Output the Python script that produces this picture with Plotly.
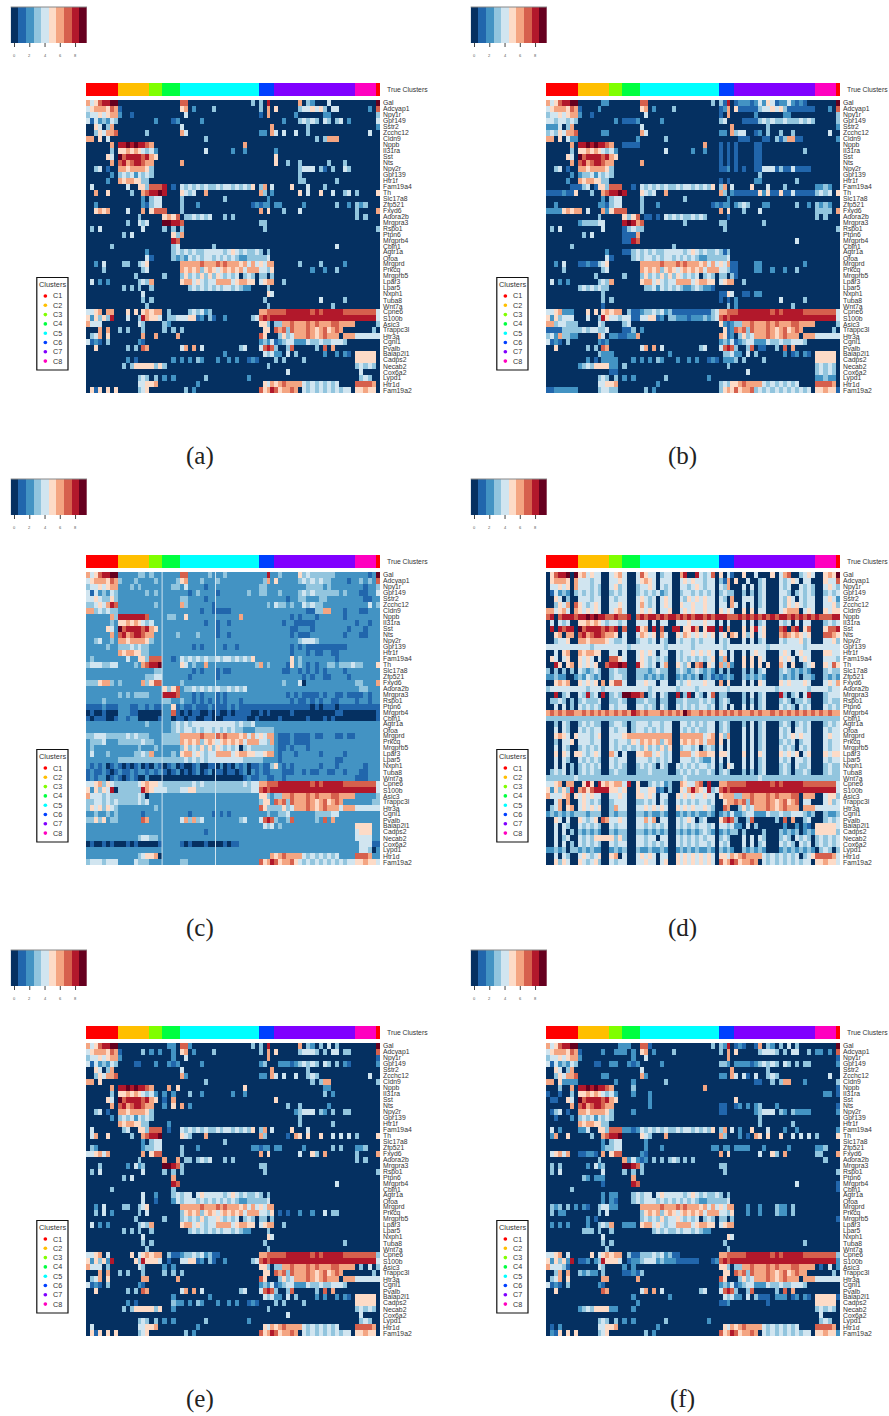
import numpy as np
import plotly.graph_objects as go

GENES = ["Gal","Adcyap1","Npy1r","Gpr149","Sstr2","Zcchc12","Cldn9","Nppb","Il31ra","Sst","Nts","Npy2r","Gpr139","Htr1f","Fam19a4","Th","Slc17a8","Zfp521","Fxyd6","Adora2b","Mrgpra3","Rspo1","Ptpn6","Mrgprb4","Cbln1","Agtr1a","Ofoa","Mrgprd","Prkcq","Mrgprb5","Lpar3","Lpar5","Nxph1","Tuba8","Wnt7a","Cpne6","S100b","Asic3","Trappc3l","Htr3a","Cgnl1","Pvalb","Baiap2l1","Cadps2","Necab2","Cox6a2","Lypd1","Htr1d","Fam19a2"]
COLORS = ["#053061","#2166AC","#4393C3","#92C5DE","#D1E5F0","#FDDBC7","#F4A582","#D6604D","#B2182B","#67001F"]
CLUSTER_COLORS = ["#FF0000","#FFBF00","#80FF00","#00FF40","#00FFFF","#0040FF","#8000FF","#FF00BF"]
CLUSTER_NAMES = ["C1","C2","C3","C4","C5","C6","C7","C8"]
CLUSTER_SIZES = [32,31.3,12.7,18,79,15,81,21,4]
CLUSTER_IDS = [0,1,2,3,4,5,6,7,0]
BLOCK_COLS = [8,8,3,4,20,4,20,5,1]
SCALE_VALUES = list(range(10))
# two nearly blank cell columns of panel (c): start cell, number of cells, value
PALE_COLUMNS_C = [(129.0, 1.2, 4), (75.6, 0.7, 4)]

PANEL_A = """
64578899 00000000 000 0000 77000000000000000030 3080 00000060320004000000 00000 9
45666576 10000000 000 0000 56020000300000000000 3060 50000034454530440000 00020 7
34454566 20010000 000 0000 04000000000000000000 1060 00000200000022000000 00000 3
41423243 00000000 020 0012 00000200000000000000 0000 00200034343043034020 00000 4
00540360 00000000 000 0000 40000000000000000000 0006 00000000300000000000 00000 2
00354667 00000003 000 0000 64000000000000000000 2206 40400400300000000000 00040 0
66050400 00000000 000 0000 00000030000000000000 0000 00000000003036660000 00000 0
00000060 88989887 600 0000 00000000000000006000 0000 00000000000000000000 00000 0
00000030 55656543 420 0000 00000040000002002000 0000 20000000000000000000 00000 0
00000540 97888878 650 0000 00000000000000000000 0000 50000000000000000000 00000 0
00000060 78678876 600 0000 60000000000000000000 0000 50030030000003000300 00000 0
00340100 66566665 300 0000 00000000000000000000 0000 00000034440310300430 00000 0
00000020 34342434 300 0000 00000000000000000000 0000 00000030000000000000 00000 0
00000200 65665533 000 0000 00000000000000000000 0000 00000033000000030000 00000 0
04000000 00400553 777 8010 43434343343443434350 3604 00005000400030000000 00000 0
00600500 00030067 889 8000 54340060000000000000 6302 00000050400500400340 30000 5
00000000 00000020 344 0000 30000000000300000000 0020 00000000000000000000 00000 0
00200000 00000021 344 0000 30002000000000000012 1220 22000002000000030020 32300 0
00565600 00400060 577 7000 30000000000000000000 6050 00300040000000000000 30000 6
00000000 00000300 000 5657 03343434000303000000 0000 00000000000000000000 30300 0
00000000 00300434 000 9988 70000000000000000000 3300 00000000000000000000 00000 0
03040000 00000040 000 3030 30000000000000000000 0300 00000000000000000000 00000 3
00000000 03040000 000 0053 60000000000000000000 0000 00000000000000000000 00000 0
00000000 00000000 000 0087 00000000000000000000 0000 00000000000000000000 00000 0
00000030 00000000 000 0034 00000000300000000000 0000 00000000000000040000 00000 0
00000000 00000002 000 0034 34343344444345434334 3030 00000000000000000000 00000 0
00000000 00000004 100 0032 32434344343434322333 3340 00000000000000000000 00000 0
00204000 03300345 000 0000 66666766676766656464 5466 00000030000300000200 00000 0
00003000 00000034 000 0000 65656356545656564666 4435 00000000020020030000 00000 0
00000000 00003000 000 3000 35343535354343403430 3303 00000000000000000000 00000 0
04020200 00000343 600 0000 56645434466664566550 4566 00300000000000000000 00000 0
00000000 03030300 300 0000 00343434343443432200 0030 00000000000000000000 00000 0
00000000 00000040 000 0000 00000000000000000000 0054 00000000000000000000 00000 0
00000000 00000030 300 0000 00000000000000000000 0300 00000000000400000300 00000 0
00000000 00000003 000 0000 00000000000000000000 0030 00000000000000300000 00000 0
44560660 00505056 566 0300 00343423000000000000 6677 77788888878788888777 77777 4
52535380 00400386 554 0334 44551203100200000034 7878 88888888888888888888 88888 4
64440000 00000430 000 3200 00000000000000000000 5530 33667666767666776666 00000 3
00060600 30300030 000 3030 30000000000000000000 0550 76737666765675676000 00003 0
03460500 00000060 060 0006 00000000000000000000 7500 03534666765676660666 44444 4
41210300 00000210 000 0000 00000000000000000000 2324 12344222433433444300 00000 0
00500000 00303076 000 0000 46060400000000034000 4787 30037000003070600000 00000 0
00000000 00000000 000 0000 00000000000200000000 0434 22040300000020020210 55555 0
00000000 00201000 000 0020 20203200020020200121 0000 30300003000000000000 55555 0
00000000 03035555 535 3000 00000000000000000000 0030 00000000000000000000 34343 0
00000000 00000000 000 0000 00000000000000000000 0000 00040000000000000000 04000 0
00000000 00000343 030 2020 00000030000000000200 0000 00000000000000000000 03430 0
00000000 00000445 560 0000 00002000000000000000 0546 56766664343434340000 77776 0
05150505 00000345 000 0000 03020000000000000000 7568 75667604343434343440 55655 0
"""

PANEL_B = """
64578899 00000022 000 0000 77000000000000000030 3180 12221242541224212100 00000 9
45666576 10000200 000 0000 56020000300000000000 1260 51111134454531111111 00020 7
34454566 20010000 000 0000 04000000000000000000 1060 00000200000022000000 00000 3
44344343 00000000 020 1112 00000200000000000000 3400 00111134343343334343 00000 3
22240360 00000000 000 0000 40000000000000000000 0006 00000000300000000000 00000 2
34354667 00000022 000 0000 64000000000000000000 2206 34400120300300300000 00040 0
66050422 00000000 000 0002 00000030000000000000 0000 01110001103136611000 00000 2
00000060 88989887 600 1111 00000000000000006000 1010 10000110000000000000 00000 0
00000030 55656543 420 0000 00000040000002002000 1010 10000110000000000300 00000 0
00000540 97888878 650 0000 00000000000000000000 1010 10000110000000000000 00000 0
00000060 78678876 600 0000 60000000000000000000 1010 10000110000000000000 00000 0
00340100 66566665 300 0000 00000000000000000000 1120 10100114441311411110 00000 0
00000020 23342434 300 0000 00000000000000000000 0000 00000030000000000000 00000 0
00000200 65665533 000 0000 00000000000000000000 1010 00000220000000030000 00000 0
00000011 13401553 777 0010 43434343343443434350 3604 00005000400030000000 22320 0
11112115 00030067 889 8000 54340060000000000000 6302 11111152511511411111 34340 5
00000000 00000020 344 0000 30000000000300000000 0020 00000000000000000000 00000 0
00200000 00000221 344 0000 30002000000000000012 1220 23430002200000030020 32320 0
22225656 60400062 577 7000 30000000000000000000 6050 00300040000000000000 33330 6
00000000 00000300 000 5357 01101043434334343000 0010 00000000000000000000 30300 0
00000000 23333440 000 8986 70000000000300000000 3300 00000003000000000000 00000 0
03040000 00000040 000 1343 30000000000000000000 0300 00000000000000000000 00000 3
00000000 03040000 000 1116 00000000000000000000 0000 00000000000000000000 00000 0
00000000 00000000 000 1187 00000000000000000000 0000 00000000000000040000 00000 0
00000030 00000000 000 0000 00000000300000000000 0000 00000000000000000000 00000 0
00000000 00000002 000 1134 34343344444345434334 3130 00000000000000000000 00000 0
00000000 00000004 100 0034 34434344343434322333 3340 00000000000000000000 00000 0
00204000 11211345 000 0000 66666766676766656464 5461 10000220000000000200 00000 0
00003000 00000034 000 0000 65656356545656564666 4431 10000220020020030000 00000 0
00000000 00003000 000 3000 35343535354343403430 3303 10000000000000000000 00000 0
04020200 00000343 600 0000 56645434466664566550 4566 00300000000000000000 00000 0
00000000 34343433 000 0000 03342434343223432210 0000 00000000000000000000 00000 0
00000000 00000030 000 0000 00000000000000000000 1154 00110220000000000000 00000 0
00000000 00000030 300 0000 00000000000000000000 1010 20000000000400000300 00000 0
00000000 00000010 000 0000 00000000000000000000 0030 20000000000000300000 00000 0
44562220 00505056 566 0311 23343423111111111134 6677 78888888878788888777 77777 4
52534440 00400385 443 4411 44551203322212223234 7878 88888888888888888888 88888 4
66344333 00000430 000 3400 00000000000000000000 5212 33667666767666776666 00000 3
11113333 34344334 000 1130 20000000000000000000 0512 76737666765675676000 00003 0
34263322 00000640 221 1226 00000000000000000000 6512 03534666765676660666 44444 4
41210300 00000212 000 0000 00000000000000000000 2324 12344222433433444300 00000 0
00500000 00303076 000 0000 46060400000000034000 4787 30037011003070600000 00000 0
00000000 00000322 200 0000 00000002000000000000 0334 22040300000020120210 55555 0
00000000 00201022 220 0020 20203200020020200121 0222 30300003000000000000 55555 0
00000000 23435555 220 3000 00000000000000000000 0030 00000000000000000000 34343 0
00000000 00000000 110 0000 00000000000000000000 0000 00040000000000000000 34343 0
00000000 00000343 030 2020 00000030000000000200 0000 00000000000000000000 22322 0
00000000 00000445 560 0000 00002000000000000000 3435 56766664343434340000 77776 0
11222222 00000344 330 0000 03020000000000000000 3565 75667343434343434340 55655 1
"""

PANEL_C = """
64578899 22222332 322 2222 77222223222322222222 2282 23222253433333322222 22212 9
45666576 32223222 232 2223 56222322232222222222 2362 52222234343433222212 23232 7
34454566 22232322 222 2233 24222212222222222222 3322 22222222333323222222 22122 3
41423243 22222223 232 2222 22123222212222222322 3322 23222234343333332322 21122 4
44543353 22222222 222 2222 33222212222222222222 2222 22212233222332222222 22112 2
33454687 22222222 232 2222 63222222122222222222 2232 43323224343322222222 22242 3
66343433 22222222 222 2222 22222122111112222222 2222 22222222113366222122 21122 2
22222263 88888887 222 2332 25222222222222262222 2222 22221212221222222122 22222 2
22222232 55656543 422 2222 22222212212212222222 2222 22122111112222222222 12212 2
22222542 97888878 652 2222 22222222212222222222 2222 22221122212222222212 22122 2
22222262 78678876 622 2223 22223222212212222222 2222 22221211122222222122 21122 2
22342232 66566665 322 2222 22222222222222222222 2222 22222234443222222222 22222 2
22222322 33343433 222 2222 22212122222122122222 2222 22221212111111111122 22222 2
22222222 65665533 222 2222 22222222222222222222 2222 22221222121122112222 22222 2
23222222 22422553 777 2212 43434343343443434352 2222 22225232222222212222 22222 2
34443344 22223267 889 2222 54232262222222222223 6232 22215232121223323334 33222 5
22222222 22222222 233 2222 22212122212112222222 2222 22112212121212222122 22222 2
22222222 22222223 344 2222 22122222212222222222 2222 22222221212211222212 22222 2
33356632 32222263 577 2222 32222222222222222222 2222 22322240222222222222 33222 6
22222222 22222222 222 5357 23343434343343434222 2222 22222222222222222222 23322 2
22222222 32323333 222 8887 22212122212122222222 2222 22212121111212211211 11212 2
22223222 22222222 222 3322 32212121212122212222 2222 22221211212122112222 12212 2
11112111 22211221 211 2251 21121112111121211111 1111 11111111101011101111 11111 1
01001000 22211000 000 2271 01011001010010111100 1010 00001000000000011000 00000 1
10111001 22122000 001 2201 10110011000111111001 0000 01000000100010100000 00000 1
22222222 22222223 222 2234 34344444444444343342 2222 22222222222222222222 22222 2
22222222 22222222 222 2234 34434344343434332223 3333 22222222222222222222 22222 2
33444333 33434333 222 3333 66666766676766656464 5466 21112111121122211211 22222 2
23334222 33333343 322 3333 65656356545656564666 4436 21112111122222222222 22222 2
23222222 22222322 232 2222 35343535354343403433 3333 21121222122222222222 22222 2
24222322 22223343 622 2232 56645434466664566554 4566 21222122222122222122 22222 2
22222222 33333333 333 3333 34343434444444443333 3222 21222222222222211222 22222 2
21212012 10101201 021 0120 10012001102010212011 2113 52121222222122212222 22122 2
12112101 21121221 212 1012 01012012011011012021 2112 22111221211221122122 21122 2
12122012 10121002 000 0000 00000000000000001211 2211 22122222222222222222 11122 2
44563543 33333456 554 3333 33343433333333334344 6677 78888888878788888777 77777 4
52535480 33333386 544 4333 44553333333333333344 7878 88888888888888888888 88888 4
64443433 33333430 222 2222 22222222222222222222 5532 33667666767666776666 22222 3
33443434 33333434 222 2222 22222222222222222222 3552 76737666765675676222 22223 3
35453543 22222222 232 2222 22222222222222222222 7533 33534666765676664666 44444 4
22322323 22222212 222 2222 22122222121212222222 2232 23342222223333442222 22222 2
33535233 22222276 222 2222 46363422222222234222 4787 32237222223272622222 22222 2
22222222 22222222 222 2222 22222222222222222222 2434 23222222222222222222 55552 2
22222222 22222222 222 2222 22222212222222222222 2222 22222222222222222222 45552 2
22222222 22222344 332 2222 22222222222222222222 2222 22222222222222222222 44442 2
01001010 00101000 001 2222 10100010000101122222 2222 22222222222222222222 24441 1
22222222 22222222 222 2222 22222222222222222222 2222 22222222222222222222 24430 2
22222222 22222345 560 2222 22222222222222222222 2226 56766664343434342222 77762 2
34443444 22224333 222 2222 33222222222222222222 7568 75667543434343434344 55655 4
"""

PANEL_D = """
05788909 56454400 456 4004 75440344006800843470 5041 00500400050467003454 00565 9
05666506 44434400 445 4004 56540444004545443440 3160 50040034000434540440 00544 7
04454506 44434300 453 4003 44540434004434543440 4360 00404034000434004343 00454 3
01423203 43434300 343 4003 43434234003443434340 3433 00303034000443034343 00343 4
00540300 44434400 434 4004 54340454004354545440 4306 00444034000435404344 00454 2
00354607 54345400 445 4004 64340454005445445440 4406 40404034000435454344 00445 3
66456406 54545400 456 4004 54540445004545445440 5454 00505044000456660454 00545 5
78078887 88989887 787 7807 87887878878787887878 8877 78787878787887878787 87778 8
04043400 55656543 443 4004 44040440044454445440 4040 00404034000434040440 00343 4
08087880 97888878 780 7008 56080700880558605880 8060 00505845000780780570 00577 8
00560660 78678876 650 4004 65450640054654545450 4506 50535045000676565450 00776 5
00344500 66566665 433 4003 44340430043443434440 4340 00404034000434445340 00445 3
44444444 44434444 444 4344 44444434444443444444 4344 44444444344444444344 44444 4
00405600 65665500 440 4004 54540440043445454540 5404 00404544000454045440 00554 4
05404500 54540400 775 4004 54343430043434343450 3604 00505054000545404540 00444 3
00850560 54545007 889 8008 54340460054350670540 6362 00505050500640500345 00547 5
30303030 43234300 343 3003 33234330034323432320 3030 00303034000343232320 00343 3
22322002 32432300 344 3003 32323230023232302312 1232 00323232000323230332 00323 2
00565600 54545060 577 4004 45440440043454445440 6050 00404054000545444540 00454 6
34444444 44344434 444 4444 44344444434444344444 4434 44444444443444444434 44434 4
00803400 43834080 343 9988 70340430080380430470 3300 00304034000830340480 00344 4
03343030 34333400 334 3003 34330330033433343430 3430 00303034000343033430 00343 3
00404030 43434300 434 4004 43430430043434344340 3404 00404034000434304340 00434 3
67676776 67676767 676 7687 67666767676976676767 6767 67667676676767676767 67676 6
33333333 33333333 333 3333 33333333333333333333 3333 33333333333333333333 33333 3
00304300 34343300 344 3034 44344344004434343440 3430 00304034000343034340 00343 4
00404300 43434400 434 4034 43434344004343433440 3430 00404034000434044340 00434 4
00565405 44434500 444 5666 66666666006666664560 5360 00404034000434545440 00454 4
00304450 44434400 434 4354 65656356005656564660 5040 00404034000343403440 00434 4
00404300 34343400 434 3434 35343535003443403430 4040 00404034000434304340 00434 4
00505405 54345400 640 4005 56645434006664566550 5540 00504054000545450450 00545 5
00404300 43434300 434 4004 44343434004443432240 4040 00404034000434044340 00434 4
00404030 34343400 434 3003 43430430043434344340 3054 00404034000343043340 00343 3
03434030 34343300 343 3003 33433330034343433430 3430 00303034000343033430 00343 3
33333334 33333333 333 3333 33333333333433333333 3333 33333343333333333333 33333 3
44560660 05850856 566 4805 00343423006544670800 6677 77788888878788888777 77777 4
52535380 67578888 554 5005 44551203005468654834 7878 88888888888888888888 88888 4
64445605 45454400 445 4005 54540440054545445440 5666 33667666767666770666 00455 3
00460600 45434300 344 4003 34340430043434344340 0566 76737666765675670440 00453 4
03460560 45454500 364 4004 45454540054545445430 0760 03534666765676660666 44444 4
23232323 33233300 323 3003 32322320023232322320 2324 22344222433433444323 00322 3
00540400 54345076 445 4004 46460440043454034000 5787 30037000003070600340 00343 4
00404300 43434300 434 4004 43434340043434344340 4434 22040300000020020210 55555 4
00404030 32323200 323 3003 32323230032323234320 2323 30300003000323230232 55555 3
00403400 43435555 535 3004 43440440043434343440 3430 00404043000343043430 34343 4
00404030 43434300 434 4004 43434340043434344340 4340 00404034000434304340 34343 4
22323033 23232200 232 3003 22322320023232322320 3232 00323232000232323232 03430 3
00404300 45434500 560 4004 54540440054545454540 5546 56766664343434340345 77776 4
00535400 54345300 434 4004 45440450054545454540 7568 75667604343434343440 55655 4
"""

PANEL_E = """
64578899 00000000 000 0220 77200000000000000030 3080 00000060320304030000 00000 9
45666576 10000030 202 0020 56020000300000000000 3060 50000034443030440330 00000 7
34454566 20000000 000 0020 04000000000000000000 0060 00000000000000000000 00000 1
41423243 00001100 020 0212 00000200000000000000 2300 02221234343043030210 00000 2
00540360 00000000 000 0000 40000000000000000000 0006 00000000300000000000 00000 0
00354667 00000000 000 0000 62000000000000000000 2206 40400400343000000000 00040 0
66050000 00000000 000 0000 00000030000000000000 0000 00000000030366000000 00000 3
00000060 88989887 600 0605 00000000000000005000 0000 00000000000022000000 00000 0
00000030 55656543 420 2020 00300200000002002000 0000 00000000000030200000 00000 0
00000540 97888878 650 1060 00000000000000000000 0000 50000000000000000000 00000 0
00000060 78678876 600 2050 60200000000000000000 0000 00030030000002000000 00000 0
00340100 66566665 300 0000 00000000000000000000 0000 00000234440320300330 00000 0
00000020 34342434 300 0000 00000000000000000000 0000 00000030000000000000 00000 0
00000000 65665533 000 0200 00000000000000000000 0000 00000030000000300000 00000 0
04000000 03400553 777 0100 43434343343443434350 3604 00005000400000000000 00000 0
04600500 00030067 889 0000 54300060000000000000 6300 00010650500500404040 30000 5
00000000 00000020 344 0000 00000000000300000000 0000 00000000000000000000 00000 0
03200000 00000023 344 0000 30002000000000000022 1220 22000002000000303000 22300 0
44564600 00000060 577 0000 30000000000000000000 6050 00000040053060000000 30000 6
00000000 00000300 000 6006 03303434000303000000 0000 00000000000000000000 30300 0
00030000 00204230 000 9987 30000000000000000000 3300 00000000000000000000 00000 0
03040000 00000040 000 3030 30000000000000000000 0300 00000000000000000000 00000 3
00000000 03040000 000 0060 00000000000000000000 0000 00000000000000000000 00000 0
00000000 00000000 000 0087 00000000000000000000 0000 00000000000000040000 00000 0
00000030 00000000 000 0030 00000000000000000000 0000 00000000000000000000 00000 0
00000000 00000040 020 0034 34404544444345434334 3030 00000000000000000000 00000 0
00000000 00000040 010 0024 34443434343434322333 3340 00000000000000000000 00000 0
00204000 03300345 000 0000 66666766676766656464 5466 00000000000000000000 00000 0
00304020 00000304 000 0000 35656356545656564666 4435 01010020020040330000 00000 0
00000000 00003000 000 3000 34343534454343403430 3303 00000000000000000000 00000 0
04020200 00000343 600 0000 56645434466664566550 4566 00300000000000000000 00000 0
00000000 03030300 300 0000 00343434343443432200 0030 00000000000000000000 00000 0
00000000 00000040 000 0000 00000000000000000000 0054 00000000000000000000 00000 0
00000000 00000030 300 0000 00000000000000000000 0300 00000000000000000300 00000 0
00000000 00000003 000 0000 00000000000000000000 0030 00000000000000000000 00000 0
44560400 00050456 566 0311 23343423110000000000 6677 77788888878788888777 77777 3
52535280 00005385 554 0100 44551203100200000034 7878 88888888888888888888 88888 4
64440300 00000430 000 2020 00000000000000000000 5530 33667666767666776666 03040 3
00060600 30300030 000 3030 30000000000000000000 0550 76737666765675676000 00003 0
03460500 00000066 000 0006 00000000000000000000 7500 03534666765676660666 44444 4
41210300 00000210 000 0000 00000000000000000000 2324 12344222433433444300 00000 0
00500000 00303076 000 0000 46060400000000034000 4787 30037000003070600000 00000 0
00000000 00000000 000 0020 00000002000000000000 0434 22040300002020020210 55555 0
00000000 00201000 000 0032 20203200020020200121 0000 30300003000000000000 55555 0
00000000 03035555 535 0020 00000000000000000000 0030 00000000000000000000 34343 0
00000000 00000000 000 0000 00000000000000000000 0000 00040000000000000000 04000 0
00000000 00000343 030 2020 00000030000000000200 0000 00000000000000000000 03430 0
04000000 00000445 560 0000 00002000000000000000 0546 56766664343434340000 77776 0
05150505 00000345 000 0000 03020000000000000000 7568 75667604343434343440 55655 0
"""

PANEL_F = """
64578899 00000000 002 2200 77100000000000000030 3280 12100160320304030000 00000 9
45666576 10000020 022 2020 56020000300000000000 3060 50000034443030440030 22020 7
34454566 20000000 000 0020 04000000000000000000 0060 00000000000000000000 00000 1
41423243 00001100 220 0212 00000200000000000000 3320 22221234343043030330 00000 2
00540360 00000000 000 0000 40000000000000000000 0006 00000000300000000000 00000 0
00354667 00000022 000 0000 62000000000000000000 2206 40410400343000000000 00040 0
66052222 00000000 020 0020 00000030000000000000 0000 00000110030366000200 00000 3
00030060 88989887 600 0030 00000000000000006000 0000 00000000000000000000 00000 1
10010030 55656543 420 0020 00200000000000000000 0000 00000000000000000000 00220 1
01100540 97888878 650 0000 00200000000000000000 0000 50000000000000000000 00000 0
00000060 78678876 600 0000 00200000000000000000 1100 12020230002000000000 00000 1
01340100 66566665 300 0020 00000000000000000000 1100 00000234440320322220 00000 2
00100020 34342434 300 0000 00000000000000000000 0000 00000030000000000000 00000 0
00000000 65665533 000 0000 00000000000000000000 0000 00000030000000300000 00000 0
04020000 22400553 777 2212 43434343343443434350 3604 02005000400020020000 00000 2
02600500 00030067 889 0000 54300060000000000000 6300 02010650500500404040 30000 5
00000000 00000020 344 0000 02000000000000000000 0000 00000000000000000000 00000 0
00000000 00000023 344 0000 02000200000000000022 0220 22220002000002000000 22300 0
04564600 11221060 577 0000 21000000000000000000 6050 00000040053060000000 33000 6
00000000 00000300 000 6242 12030303430303000000 0000 00000000000000000000 00300 0
03030000 00204230 000 9987 30000000000000000000 3300 00000000000000000000 00000 0
03040000 00000040 000 3030 30000000000000000000 0300 00000000000000000000 00000 3
00000000 03202220 000 0060 00000000000000000000 0000 00000000000000000000 00000 0
00000000 00000010 000 0087 00000000000000000000 0000 00000000000000040000 00000 1
00000030 00000000 000 0000 00000000000000000000 0000 00000000000000000000 00000 1
00000000 00000020 220 0034 34404544444345434334 3030 00000000000000000000 00000 0
00000000 00000020 210 0034 34443434343434322333 3340 00000000000000000000 00000 0
03230302 02100344 220 0000 66666766676766656464 5466 00020020003220300000 00000 0
03022000 00000304 000 0000 35656356545656564666 4435 00020020003220300000 00000 0
00000000 00201000 000 0000 34343534454343403430 3303 00000000000000000000 00000 1
02020200 00200343 600 2220 56645434466664566550 4566 00000000000000000000 00000 0
00000000 03330300 300 0000 00034343343443432200 0000 00000000000000000000 00000 0
00000000 00000040 000 0000 00000000000000000000 0054 00000000000000000000 00000 0
00000000 00000030 300 0000 00000000000000000000 0300 00000000000000000300 00000 0
00000000 00000003 000 0000 00000000000000000000 0030 00000000000000000000 00000 0
44560400 00050456 566 0311 33343423110000000000 6677 77788888878788888777 77777 3
52535280 11202385 554 0122 34442322211111100012 7878 88888888888888888888 88888 2
64443100 00000430 000 2020 00000000000000000000 5530 33667666767666776666 01040 2
00360600 32322030 000 1121 30000000000000000000 0550 76737666765675676600 00003 0
03460500 00000066 000 0006 00000000000000000000 7500 03534666765676660666 44444 4
41210300 00000210 000 0000 00000000000000000000 2324 12344222433433444300 00000 0
00500000 00000076 000 0000 46060400000000034000 4787 30037000003070600000 00000 0
00000000 00000000 000 0020 00000002000000000000 0434 22040311102220120210 55555 1
00000000 00000000 000 0002 00000000000000000000 1120 00000000100000000000 55555 0
00000000 23435555 220 0020 00000000000000000000 0000 00000000000000000000 34343 0
00000000 00000000 000 0000 00000000000000000000 0000 00000000000000000000 04000 0
00000000 00000343 030 2020 00000030000000000200 0000 00000000000000000000 03430 0
01020000 00000445 560 0000 00002000000000000000 0546 56766664343434340000 77776 0
02150505 00000345 000 0000 03020000000000000000 7568 75667604343434343440 55655 2
"""

def parse(text):
    rows = []
    for line in text.strip().splitlines():
        blocks = line.split()
        cells = []
        for b, n in zip(blocks, BLOCK_COLS):
            b = (b + b[-1] * n)[:n]
            cells += [int(c) for c in b]
        rows.append(cells)
    return rows

def edges():
    e = [0.0]
    start = 0.0
    for s, n in zip(CLUSTER_SIZES, BLOCK_COLS):
        e += [start + s * (k + 1) / n for k in range(n)]
        start += s
    return e

cmap = []
for i, c in enumerate(COLORS):
    cmap += [[i / 10, c], [(i + 1) / 10, c]]
ccmap = []
for i, c in enumerate(CLUSTER_COLORS):
    ccmap += [[i / 8, c], [(i + 1) / 8, c]]

W, H = 889, 1416
fig = go.Figure()
axis_n = [1]

def add_axes(x0, x1, y0, y1, **kw):
    n = axis_n[0]
    axis_n[0] += 1
    xa = dict(domain=[x0 / W, x1 / W], showgrid=False, zeroline=False, showticklabels=False, ticks="", showline=False, anchor="y" if n == 1 else f"y{n}")
    ya = dict(domain=[1 - y1 / H, 1 - y0 / H], showgrid=False, zeroline=False, showticklabels=False, ticks="", showline=False, anchor="x" if n == 1 else f"x{n}")
    xa.update(kw.get("x", {}))
    ya.update(kw.get("y", {}))
    fig.layout["xaxis" if n == 1 else f"xaxis{n}"] = xa
    fig.layout["yaxis" if n == 1 else f"yaxis{n}"] = ya
    return ("x" if n == 1 else f"x{n}"), ("y" if n == 1 else f"y{n}")

def text(s, px, py, size, color="#333333", anchor="left", family="Liberation Sans"):
    fig.add_annotation(text=s, xref="paper", yref="paper", x=px / W, y=1 - py / H, xanchor=anchor, yanchor="middle", showarrow=False, font=dict(size=size, color=color, family=family), borderpad=0)

def panel(data, dx, dy, caption, cap_x, pale=()):
    xr, yr = add_axes(dx + 10.7, dx + 87, dy + 7, dy + 43, x=dict(range=[-0.5, 9.5]), y=dict(range=[0, 1]))
    fig.add_trace(go.Heatmap(z=[SCALE_VALUES], x=SCALE_VALUES, y=[0.5], colorscale=cmap, zmin=-0.5, zmax=9.5, showscale=False, xaxis=xr, yaxis=yr))
    fig.add_shape(type="line", xref="paper", yref="paper", x0=(dx + 10.7) / W, x1=(dx + 87) / W, y0=1 - (dy + 7) / H, y1=1 - (dy + 7) / H, line=dict(color="#888888", width=1))
    for v in [0, 2, 4, 6, 8]:
        px = dx + 10.7 + (v + 0.5) * 7.63
        fig.add_shape(type="line", xref="paper", yref="paper", x0=px / W, x1=px / W, y0=1 - (dy + 43) / H, y1=1 - (dy + 47) / H, line=dict(color="#444444", width=1))
        text(str(v), px, dy + 55.5, 4, "#555555", "center")
    e = [0.0] + list(np.cumsum(CLUSTER_SIZES))
    xr, yr = add_axes(dx + 86, dx + 380, dy + 83, dy + 96, x=dict(range=[0, e[-1]]), y=dict(range=[0, 1]))
    fig.add_trace(go.Heatmap(z=[CLUSTER_IDS], x=e, y=[0, 1], colorscale=ccmap, zmin=-0.5, zmax=7.5, showscale=False, xaxis=xr, yaxis=yr))
    text("True Clusters", dx + 386, dy + 89.5, 6.8)
    xe = edges()
    xr, yr = add_axes(dx + 86, dx + 380, dy + 100, dy + 393, x=dict(range=[0, xe[-1]]), y=dict(range=[49, 0]))
    fig.add_trace(go.Heatmap(z=parse(data), x=xe, y=list(range(50)), colorscale=cmap, zmin=-0.5, zmax=9.5, showscale=False, xaxis=xr, yaxis=yr))
    for start, width, val in pale:
        fig.add_trace(go.Heatmap(z=[[val]], x=[start, start + width], y=[0, 49], colorscale=cmap, zmin=-0.5, zmax=9.5, showscale=False, xaxis=xr, yaxis=yr))
    for i, g in enumerate(GENES):
        text(g, dx + 382, dy + 100 + (i + 0.5) * 293 / 49, 6.8)
    fig.add_shape(type="rect", xref="paper", yref="paper", x0=(dx + 36.8) / W, x1=(dx + 68) / W, y0=1 - (dy + 277.5) / H, y1=1 - (dy + 370) / H, line=dict(color="#111111", width=1.2), fillcolor="white")
    text("Clusters", dx + 52.4, dy + 284.5, 7.4, anchor="center")
    for i, (nm, c) in enumerate(zip(CLUSTER_NAMES, CLUSTER_COLORS)):
        yy = dy + 296 + i * 9.3
        fig.add_shape(type="circle", xref="paper", yref="paper", x0=(dx + 43.5) / W, x1=(dx + 47.2) / W, y0=1 - (yy - 1.8) / H, y1=1 - (yy + 1.8) / H, line=dict(width=0), fillcolor=c)
        text(nm, dx + 52.2, yy, 7.2)
    text(caption, cap_x, dy + 456, 25, "#222222", "center", "Liberation Serif")

panel(PANEL_A, 0, 0, "(a)", 200)
panel(PANEL_B, 460, 0, "(b)", 682)
panel(PANEL_C, 0, 472, "(c)", 200, PALE_COLUMNS_C)
panel(PANEL_D, 460, 472, "(d)", 682)
panel(PANEL_E, 0, 943, "(e)", 200)
panel(PANEL_F, 460, 943, "(f)", 682)

fig.update_layout(width=W, height=H, margin=dict(l=0, r=0, t=0, b=0), paper_bgcolor="white", plot_bgcolor="white", showlegend=False)
fig.write_html("out.html", config=dict(displayModeBar=False), post_script="document.body.style.margin='0';document.documentElement.style.overflow='hidden';")
